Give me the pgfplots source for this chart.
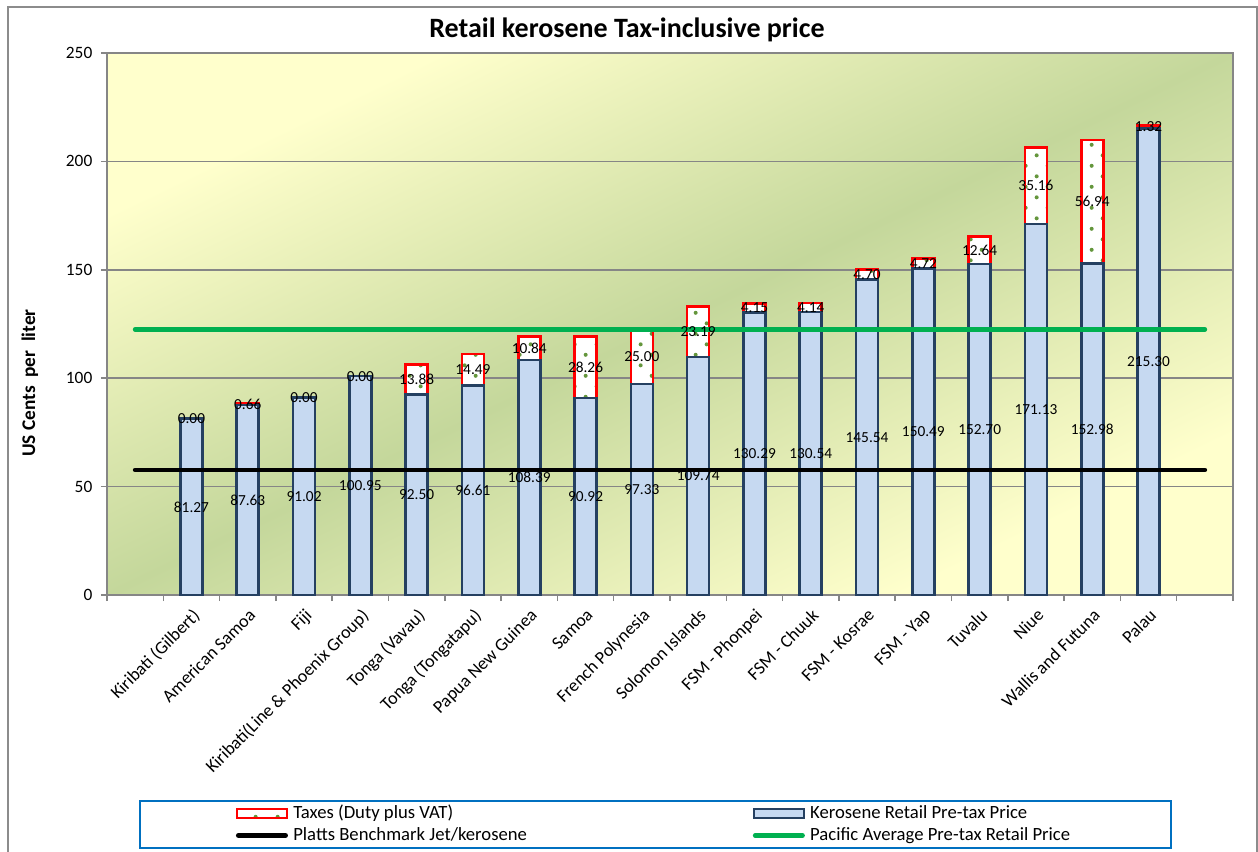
\documentclass[border=0pt]{standalone}
\usepackage{fontspec}
\setmainfont{Carlito}
\usepackage{pgfplots}
\pgfplotsset{compat=1.18}
\usepackage{pgfplotstable}
\usetikzlibrary{patterns}

\definecolor{barblue}{RGB}{198,217,241}
\definecolor{barnavy}{RGB}{37,64,97}
\definecolor{taxred}{RGB}{255,0,0}
\definecolor{pacgreen}{RGB}{0,176,80}
\definecolor{gridgray}{RGB}{134,134,134}
\definecolor{framegray}{RGB}{140,140,140}
\definecolor{bgyellow}{RGB}{255,255,204}
\definecolor{bggreen}{RGB}{196,215,155}
\definecolor{legendblue}{RGB}{0,112,192}
\definecolor{dotgreen}{RGB}{100,150,60}

\pgfdeclarepatternformonly{sparsedots}{\pgfqpoint{-2pt}{-2pt}}{\pgfqpoint{18pt}{18pt}}{\pgfqpoint{16.5pt}{15.75pt}}{%
  \pgfpathcircle{\pgfqpoint{2pt}{2pt}}{1.5pt}%
  \pgfpathcircle{\pgfqpoint{10.25pt}{9.9pt}}{1.5pt}%
  \pgfusepath{fill}}

% rows with a tax segment
\pgfplotstableread{
x pre tax
2 87.63 0.66
5 92.50 13.88
6 96.61 14.49
7 108.39 10.84
8 90.92 28.26
9 97.33 25.00
10 109.74 23.19
11 130.29 4.15
12 130.54 4.14
13 145.54 4.70
14 150.49 4.72
15 152.70 12.64
16 171.13 35.16
17 152.98 56.94
18 215.30 1.32
}\taxed
% rows without tax
\pgfplotstableread{
x pre tax
1 81.27 0.00
3 91.02 0.00
4 100.95 0.00
}\untaxed

\begin{document}
\begin{tikzpicture}
\useasboundingbox (0,0) rectangle (943.5pt,638.25pt);
\draw[framegray, line width=1.5pt] (6pt,-5pt) -- (6pt,633pt) -- (942.75pt,633pt) -- (942.75pt,-5pt);
% plot-area gradient (diagonal, yellow corners top-left / bottom-right)
\begin{scope}[transform canvas={cm={8.445,0,0,4.065,(80.25pt,192pt)}}]
\shade[left color=bgyellow, right color=bgyellow, middle color=bggreen, shading angle=45] (0,0) rectangle (100pt,100pt);
\end{scope}

\begin{axis}[
  at={(80.25pt,192pt)}, anchor=south west,
  width=844.5pt, height=406.5pt, scale only axis,
  xmin=-0.5, xmax=19.5, ymin=0, ymax=250,
  ytick={0,50,100,150,200,250},
  xtick={1,...,18},
  xticklabels={Kiribati (Gilbert),American Samoa,Fiji,Kiribati(Line \& Phoenix Group),Tonga (Vavau),Tonga (Tongatapu),Papua New Guinea,Samoa,French Polynesia,Solomon Islands,FSM - Phonpei,FSM - Chuuk,FSM - Kosrae,FSM - Yap,Tuvalu,Niue,Wallis and Futuna,Palau},
  minor xtick={-0.5,0.5,1.5,2.5,3.5,4.5,5.5,6.5,7.5,8.5,9.5,10.5,11.5,12.5,13.5,14.5,15.5,16.5,17.5,18.5,19.5},
  tick pos=left,
  tick align=outside,
  major tick length=4.5pt,
  minor tick length=4.5pt,
  major x tick style={draw=none},
  minor x tick style={draw=gridgray, line width=1.1pt},
  y tick style={draw=gridgray, line width=1.1pt},
  axis line style={draw=gridgray, line width=1.1pt},
  ymajorgrids, grid style={draw=gridgray, line width=1.1pt},
  /pgf/number format/assume math mode=true,
  tick label style={font=\fontsize{13}{15}\selectfont, black},
  yticklabel style={xshift=-3pt},
  x tick label style={rotate=45, anchor=north east, font=\fontsize{13.5}{15}\selectfont},
  title={Retail kerosene Tax-inclusive price},
  every axis title/.style={at={(axis description cs:0.4618,1.0424)}, anchor=center, font=\bfseries\fontsize{21}{24}\selectfont},
  ylabel={US Cents\ \ per\ \ liter},
  ylabel style={font=\bfseries\fontsize{14.5}{16}\selectfont, at={(axis description cs:-0.0684,0.391)}, anchor=center},
  ybar stacked, bar width=16.5pt,
]
\addplot[fill=barblue, draw=barnavy, line width=2pt] table[x=x, y=pre] {\taxed};
\addplot[draw=taxred, line width=2pt, pattern=sparsedots, pattern color=dotgreen, preaction={fill=white}] table[x=x, y=tax] {\taxed};
\end{axis}

\begin{axis}[
  at={(80.25pt,192pt)}, anchor=south west,
  width=844.5pt, height=406.5pt, scale only axis,
  xmin=-0.5, xmax=19.5, ymin=0, ymax=250,
  hide axis, clip=false,
  legend columns=2,
  legend cell align=left,
  legend style={
    at={(axis description cs:0.0284,-0.4234)}, anchor=west,
    draw=legendblue, line width=1.5pt, fill=white,
    inner xsep=72pt, inner ysep=3pt,
    row sep=3.5pt,
    font=\fontsize{14}{16}\selectfont,
    nodes={inner xsep=4pt, inner ysep=0pt, text height=10pt, text depth=3pt},
    /tikz/every even column/.append style={column sep=165.5pt},
  },
  every node near coord/.append style={anchor=center, font=\fontsize{11.5}{13}\selectfont, black, inner sep=0pt},
  nodes near coords={\pgfmathprintnumber[fixed, fixed zerofill, precision=2, assume math mode=true]{\pgfplotspointmeta}},
]
\addlegendimage{legend image code/.code={\draw[draw=taxred, line width=1.5pt, pattern=sparsedots, pattern color=dotgreen, preaction={fill=white}] (0pt,-3.4pt) rectangle (37.5pt,3.4pt);}}
\addlegendentry{Taxes (Duty plus VAT)}
\addlegendimage{legend image code/.code={\draw[draw=barnavy, line width=1.5pt, fill=barblue] (0pt,-3.4pt) rectangle (37.5pt,3.4pt);}}
\addlegendentry{Kerosene Retail Pre-tax Price}

\addplot[ybar, bar shift=0pt, bar width=16.5pt, fill=barblue, draw=barnavy, line width=2pt, forget plot, nodes near coords=] table[x=x, y=pre] {\untaxed};

\addplot[black, line width=3.5pt, line cap=round, mark=none, nodes near coords=, legend image code/.code={\draw[black, line width=3.5pt, line cap=round] (1pt,0) -- (36.5pt,0);}] coordinates {(0,57.7) (19,57.7)};
\addlegendentry{Platts Benchmark Jet/kerosene}
\addplot[pacgreen, line width=3.5pt, line cap=round, mark=none, nodes near coords=, legend image code/.code={\draw[pacgreen, line width=3.5pt, line cap=round] (1pt,0) -- (36.5pt,0);}] coordinates {(0,122.5) (19,122.5)};
\addlegendentry{Pacific Average Pre-tax Retail Price}

% data labels: pre-tax value centred in its bar, tax value centred in its segment
\addplot[draw=none, mark=none, forget plot, point meta=explicit] table[x=x, y expr=\thisrow{pre}/2, meta=pre] {\taxed};
\addplot[draw=none, mark=none, forget plot, point meta=explicit] table[x=x, y expr=\thisrow{pre}+\thisrow{tax}/2, meta=tax] {\taxed};
\addplot[draw=none, mark=none, forget plot, point meta=explicit] table[x=x, y expr=\thisrow{pre}/2, meta=pre] {\untaxed};
\addplot[draw=none, mark=none, forget plot, point meta=explicit] table[x=x, y expr=\thisrow{pre}+\thisrow{tax}/2, meta=tax] {\untaxed};
\end{axis}
\end{tikzpicture}
\end{document}
